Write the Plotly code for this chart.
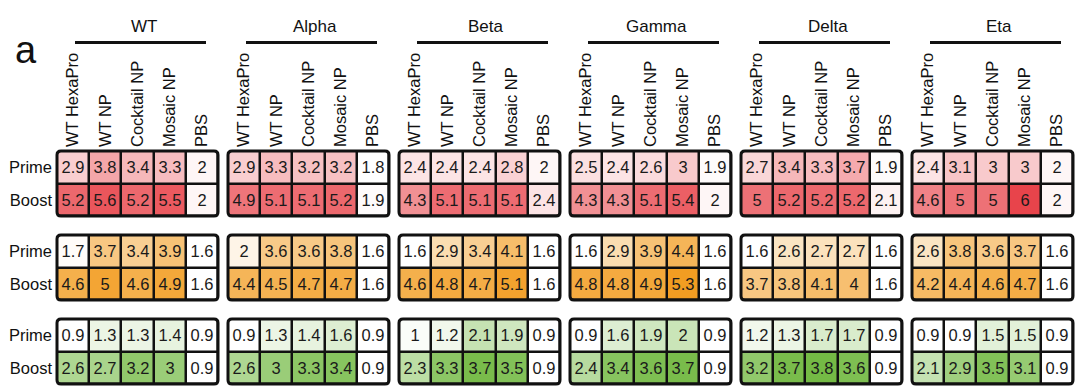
import plotly.graph_objects as go

# ---------------- data ----------------
variants = ["WT", "Alpha", "Beta", "Gamma", "Delta", "Eta"]
immunogens = ["WT HexaPro", "WT NP", "Cocktail NP", "Mosaic NP", "PBS"]
doses = ["Prime", "Boost"]

red_prime = [[2.9, 3.8, 3.4, 3.3, 2], [2.9, 3.3, 3.2, 3.2, 1.8], [2.4, 2.4, 2.4, 2.8, 2],
             [2.5, 2.4, 2.6, 3, 1.9], [2.7, 3.4, 3.3, 3.7, 1.9], [2.4, 3.1, 3, 3, 2]]
red_boost = [[5.2, 5.6, 5.2, 5.5, 2], [4.9, 5.1, 5.1, 5.2, 1.9], [4.3, 5.1, 5.1, 5.1, 2.4],
             [4.3, 4.3, 5.1, 5.4, 2], [5, 5.2, 5.2, 5.2, 2.1], [4.6, 5, 5, 6, 2]]
orange_prime = [[1.7, 3.7, 3.4, 3.9, 1.6], [2, 3.6, 3.6, 3.8, 1.6], [1.6, 2.9, 3.4, 4.1, 1.6],
                [1.6, 2.9, 3.9, 4.4, 1.6], [1.6, 2.6, 2.7, 2.7, 1.6], [2.6, 3.8, 3.6, 3.7, 1.6]]
orange_boost = [[4.6, 5, 4.6, 4.9, 1.6], [4.4, 4.5, 4.7, 4.7, 1.6], [4.6, 4.8, 4.7, 5.1, 1.6],
                [4.8, 4.8, 4.9, 5.3, 1.6], [3.7, 3.8, 4.1, 4, 1.6], [4.2, 4.4, 4.6, 4.7, 1.6]]
green_prime = [[0.9, 1.3, 1.3, 1.4, 0.9], [0.9, 1.3, 1.4, 1.6, 0.9], [1, 1.2, 2.1, 1.9, 0.9],
               [0.9, 1.6, 1.9, 2, 0.9], [1.2, 1.3, 1.7, 1.7, 0.9], [0.9, 0.9, 1.5, 1.5, 0.9]]
green_boost = [[2.6, 2.7, 3.2, 3, 0.9], [2.6, 3, 3.3, 3.4, 0.9], [2.3, 3.3, 3.7, 3.5, 0.9],
               [2.4, 3.4, 3.6, 3.7, 0.9], [3.2, 3.7, 3.8, 3.6, 0.9], [2.1, 2.9, 3.5, 3.1, 0.9]]

blocks = [
    dict(prime=red_prime, boost=red_boost, color="#E8444B", zmin=1.8, zmax=6.0),
    dict(prime=orange_prime, boost=orange_boost, color="#F29D22", zmin=1.6, zmax=5.3),
    dict(prime=green_prime, boost=green_boost, color="#74BA45", zmin=0.9, zmax=3.8),
]

# ---------------- layout (pixels) ----------------
W, H = 1080, 391
FONT = "Liberation Sans, Arial, sans-serif"
panel_x0 = [57, 228, 399, 570, 741, 912]
panel_w = 161
block_y0 = [151, 235, 319]
block_h = 65


def px(x):
    return x / W


def py(y):
    return 1 - y / H


fig = go.Figure()
shapes = []
annotations = []

for b, blk in enumerate(blocks):
    for p in range(6):
        k = b * 6 + p + 1
        xa = "x" if k == 1 else f"x{k}"
        ya = "y" if k == 1 else f"y{k}"
        fig.add_trace(go.Heatmap(
            x=immunogens, y=doses,
            z=[blk["prime"][p], blk["boost"][p]],
            zmin=blk["zmin"], zmax=blk["zmax"],
            colorscale=[[0, "#FFFFFF"], [1, blk["color"]]],
            showscale=False, xgap=2.5, ygap=2.5,
            texttemplate="%{z}", textfont=dict(size=16.5, color="#1a1a1a", family=FONT),
            hoverinfo="skip",
            xaxis=xa, yaxis=ya,
        ))
        x0 = panel_x0[p]
        x1 = x0 + panel_w
        y0 = block_y0[b]
        y1 = y0 + block_h
        fig.layout[f"xaxis{k}"] = dict(
            domain=[px(x0), px(x1)], anchor=ya, type="category",
            categoryarray=immunogens, range=[-0.5, 4.5],
            showgrid=False, zeroline=False, automargin=False, ticks="",
            showticklabels=(b == 0), side="top", tickangle=-90,
            ticklabelstandoff=3,
            tickfont=dict(size=16.5, family=FONT, color="#111"),
            fixedrange=True,
        )
        fig.layout[f"yaxis{k}"] = dict(
            domain=[py(y1), py(y0)], anchor=xa, type="category",
            categoryarray=doses, range=[1.5, -0.5],
            showgrid=False, zeroline=False, automargin=False, ticks="",
            showticklabels=(p == 0), ticklabelstandoff=4,
            tickfont=dict(size=16.5, family=FONT, color="#111"),
            fixedrange=True,
        )
        # rounded outer border
        r = 4
        path = (
            f"M{px(x0 + r)},{py(y0)} L{px(x1 - r)},{py(y0)} "
            f"Q{px(x1)},{py(y0)} {px(x1)},{py(y0 + r)} "
            f"L{px(x1)},{py(y1 - r)} Q{px(x1)},{py(y1)} {px(x1 - r)},{py(y1)} "
            f"L{px(x0 + r)},{py(y1)} Q{px(x0)},{py(y1)} {px(x0)},{py(y1 - r)} "
            f"L{px(x0)},{py(y0 + r)} Q{px(x0)},{py(y0)} {px(x0 + r)},{py(y0)} Z"
        )
        shapes.append(dict(type="path", path=path, xref="paper", yref="paper",
                           line=dict(color="#111", width=3)))

# group headers
for p, name in enumerate(variants):
    lx0 = panel_x0[p] + 18
    lx1 = panel_x0[p] + panel_w - 12
    shapes.append(dict(type="line", xref="paper", yref="paper",
                       x0=px(lx0), x1=px(lx1), y0=py(42.5), y1=py(42.5),
                       line=dict(color="#111", width=3)))
    annotations.append(dict(text=name, xref="paper", yref="paper",
                            x=px((lx0 + lx1) / 2 + 3), y=py(27), showarrow=False,
                            xanchor="center", yanchor="middle",
                            font=dict(size=17, family=FONT, color="#111")))

annotations.append(dict(text="a", xref="paper", yref="paper", x=px(26), y=py(50),
                        showarrow=False, xanchor="center", yanchor="middle",
                        font=dict(size=38, family=FONT, color="#111")))

fig.update_layout(
    width=W, height=H, margin=dict(l=0, r=0, t=0, b=0),
    paper_bgcolor="white", plot_bgcolor="#111111",
    shapes=shapes, annotations=annotations, showlegend=False,
    font=dict(family=FONT),
)

fig.write_html("out.html", config={"displayModeBar": False},
               post_script="document.body.style.margin='0';")
